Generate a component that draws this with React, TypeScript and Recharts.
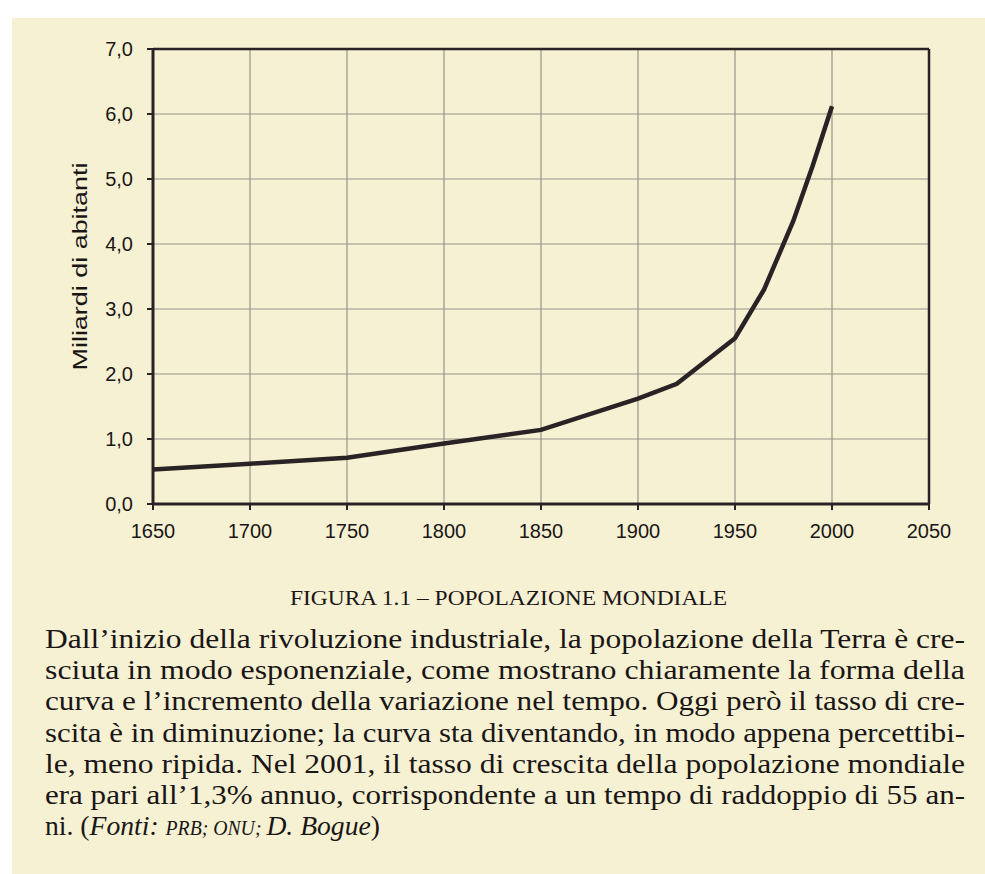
import React from 'react';
import {
    LineChart,
    Line,
    XAxis,
    YAxis,
    CartesianGrid,
    ReferenceLine,
    Label,
} from 'recharts';

// World population, billions
const years = [1650, 1700, 1750, 1800, 1850, 1900, 1920, 1950, 1965, 1980, 1990, 2000];
const billions = [0.53, 0.62, 0.71, 0.93, 1.14, 1.62, 1.85, 2.55, 3.3, 4.35, 5.2, 6.12];

const yearTicks = [1650, 1700, 1750, 1800, 1850, 1900, 1950, 2000, 2050];
const valueTicks = [0, 1, 2, 3, 4, 5, 6, 7];

const yLabel = 'Miliardi di abitanti';
const figureTitle = 'FIGURA 1.1 – POPOLAZIONE MONDIALE';
const captionLines = [
    'Dall’inizio della rivoluzione industriale, la popolazione della Terra è cre-',
    'sciuta in modo esponenziale, come mostrano chiaramente la forma della',
    'curva e l’incremento della variazione nel tempo. Oggi però il tasso di cre-',
    'scita è in diminuzione; la curva sta diventando, in modo appena percettibi-',
    'le, meno ripida. Nel 2001, il tasso di crescita della popolazione mondiale',
    'era pari all’1,3% annuo, corrispondente a un tempo di raddoppio di 55 an-',
];

const data = years.map((year, i) => ({ year, value: billions[i] }));

const INK = '#2a2326';
const TEXT = '#1a1616';
const PAPER = '#f6f1d3';
const SANS = '"Liberation Sans", Arial, sans-serif';
const SERIF = '"Liberation Serif", "Times New Roman", serif';

const formatValue = (v: number) => v.toFixed(1).replace('.', ',');

const RotatedLabel = (props: any) => {
    const { viewBox } = props;
    const cx = 79;
    const cy = viewBox.y + viewBox.height / 2 - 10;
    return (
        <text
            x={cx}
            y={cy}
            transform={`rotate(-90 ${cx} ${cy})`}
            textAnchor="middle"
            dominantBaseline="central"
            fill={TEXT}
            fontFamily={SANS}
            fontSize={21}
            textLength={208}
            lengthAdjust="spacingAndGlyphs"
        >
            {yLabel}
        </text>
    );
};

export default function App() {
    return (
        <div
            style={{
                position: 'absolute',
                top: 0,
                left: 0,
                width: 985,
                height: 874,
                background: '#ffffff',
                overflow: 'hidden',
            }}
        >
            <div
                style={{
                    position: 'absolute',
                    top: 18,
                    left: 12,
                    right: 0,
                    bottom: 0,
                    background: PAPER,
                }}
            />
            <div style={{ position: 'absolute', top: 0, left: 0 }}>
                <LineChart
                    width={985}
                    height={560}
                    data={data}
                    margin={{ top: 49, right: 56, bottom: 16, left: 0 }}
                >
                    <CartesianGrid stroke="#96948a" strokeWidth={1.2} />
                    <XAxis
                        dataKey="year"
                        type="number"
                        domain={[1650, 2050]}
                        ticks={yearTicks}
                        height={40}
                        axisLine={{ stroke: INK, strokeWidth: 3 }}
                        tickLine={{ stroke: INK, strokeWidth: 2 }}
                        tickSize={6}
                        tickMargin={14}
                        tick={{ fill: TEXT, fontSize: 20, fontFamily: SANS }}
                    />
                    <YAxis
                        type="number"
                        domain={[0, 7]}
                        ticks={valueTicks}
                        width={153}
                        axisLine={{ stroke: INK, strokeWidth: 3 }}
                        tickLine={{ stroke: INK, strokeWidth: 2 }}
                        tickSize={6}
                        tickMargin={14}
                        tickFormatter={formatValue}
                        tick={{ fill: TEXT, fontSize: 20, fontFamily: SANS }}
                    >
                        <Label content={<RotatedLabel />} />
                    </YAxis>
                    <ReferenceLine y={7} stroke={INK} strokeWidth={2.5} ifOverflow="visible" />
                    <ReferenceLine x={2050} stroke={INK} strokeWidth={2.5} ifOverflow="visible" />
                    <Line
                        type="linear"
                        dataKey="value"
                        stroke={INK}
                        strokeWidth={4.5}
                        dot={false}
                        isAnimationActive={false}
                    />
                </LineChart>
            </div>
            <svg
                width={985}
                height={314}
                style={{ position: 'absolute', top: 560, left: 0 }}
            >
                <text
                    x={290}
                    y={45}
                    fill={TEXT}
                    fontFamily={SERIF}
                    fontSize={21}
                    textLength={437}
                    lengthAdjust="spacingAndGlyphs"
                >
                    {figureTitle}
                </text>
                {captionLines.map((line, i) => (
                    <text
                        key={i}
                        x={45}
                        y={88 + i * 31.2}
                        fill={TEXT}
                        fontFamily={SERIF}
                        fontSize={28}
                        textLength={920}
                        lengthAdjust="spacingAndGlyphs"
                    >
                        {line}
                    </text>
                ))}
                <text
                    x={45}
                    y={88 + 6 * 31.2}
                    fill={TEXT}
                    fontFamily={SERIF}
                    fontSize={28}
                    textLength={335}
                    lengthAdjust="spacingAndGlyphs"
                >
                    ni. (
                    <tspan fontStyle="italic">Fonti: </tspan>
                    <tspan fontStyle="italic" fontSize={20}>PRB; ONU; </tspan>
                    <tspan fontStyle="italic">D. Bogue</tspan>)
                </text>
            </svg>
        </div>
    );
}
